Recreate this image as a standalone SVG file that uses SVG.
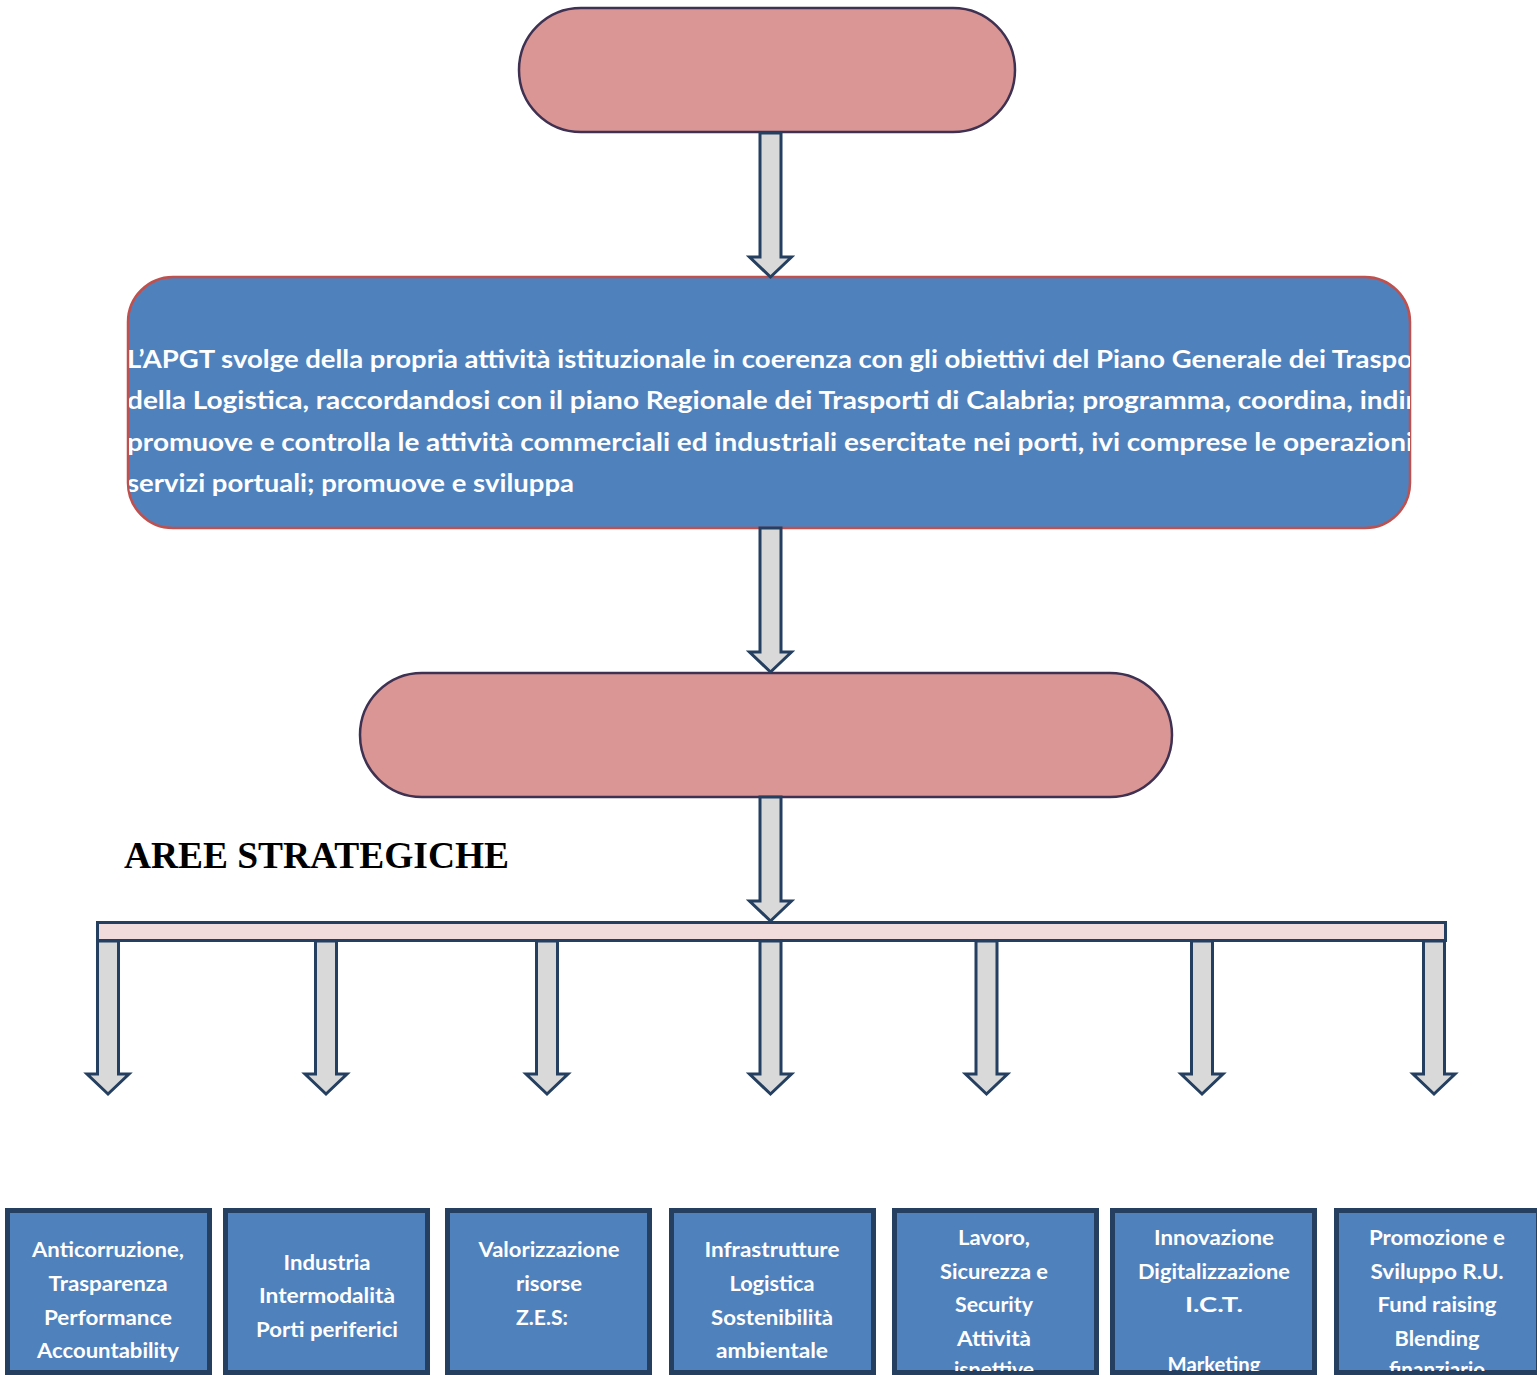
<svg xmlns="http://www.w3.org/2000/svg" width="1537" height="1375" viewBox="0 0 1537 1375">
  <style>
    .pill { fill: #D99694; stroke: #3F3151; stroke-width: 2.5; }
    .mission { fill: #4F81BD; stroke: #C0504D; stroke-width: 2.5; }
    .area { fill: #4F81BD; stroke: #243F60; stroke-width: 5; }
    .bar { fill: #F2DCDB; stroke: #243F60; stroke-width: 3; }
    .arrow { fill: #D9D9D9; stroke: #243F60; stroke-width: 3; stroke-linejoin: miter; }
    .body { font-family: Lato, "Open Sans", "Liberation Sans", sans-serif; font-weight: bold; font-size: 24px; fill: #FFFFFF; }
    .lbl { font-family: Lato, "Open Sans", "Liberation Sans", sans-serif; font-weight: bold; font-size: 20px; fill: #FFFFFF; text-anchor: middle; }
    .title { font-family: "Liberation Serif", "DejaVu Serif", serif; font-weight: bold; font-size: 37px; fill: #000000; }
  </style>
  <defs>
    <clipPath id="missionClip">
      <rect x="129" y="278" width="1281" height="250" rx="45"/>
    </clipPath>
    <clipPath id="areaClip">
      <rect x="0" y="1213" width="1537" height="158"/>
    </clipPath>
  </defs>

  <rect width="1537" height="1375" fill="#FFFFFF"/>

  <!-- top pill -->
  <g id="node-top">
    <rect class="pill" x="519" y="8" width="496" height="124" rx="62"/>
  </g>

  <!-- mission statement -->
  <g id="node-mission">
    <rect class="mission" x="128" y="277" width="1282" height="251" rx="45"/>
    <g clip-path="url(#missionClip)">
      <text class="body" x="127" y="368" textLength="1286" lengthAdjust="spacingAndGlyphs">L’APGT svolge della propria attività istituzionale in coerenza con gli obiettivi del Piano Generale dei Traspo</text>
      <text class="body" x="127" y="409" textLength="1289" lengthAdjust="spacingAndGlyphs">della Logistica, raccordandosi con il piano Regionale dei Trasporti di Calabria; programma, coordina, indir</text>
      <text class="body" x="127" y="451" textLength="1286" lengthAdjust="spacingAndGlyphs">promuove e controlla le attività commerciali ed industriali esercitate nei porti, ivi comprese le operazioni</text>
      <text class="body" x="127" y="492" textLength="447" lengthAdjust="spacingAndGlyphs">servizi portuali; promuove e sviluppa</text>
    </g>
  </g>

  <!-- middle pill -->
  <g id="node-middle">
    <rect class="pill" x="360" y="673" width="812" height="124" rx="62"/>
  </g>

  <!-- section heading -->
  <g id="node-heading">
    <text class="title" x="124" y="868" textLength="385" lengthAdjust="spacingAndGlyphs">AREE STRATEGICHE</text>
  </g>

  <!-- distribution bar -->
  <g id="node-bar">
    <rect class="bar" x="97.5" y="922.5" width="1348" height="18"/>
  </g>

  <!-- strategic area boxes -->
  <g id="node-area-1">
    <rect class="area" x="7.5" y="1210.5" width="202" height="162"/>
    <g clip-path="url(#areaClip)">
      <text class="lbl" x="108" y="1257" textLength="152" lengthAdjust="spacingAndGlyphs">Anticorruzione,</text>
      <text class="lbl" x="108" y="1291" textLength="119" lengthAdjust="spacingAndGlyphs">Trasparenza</text>
      <text class="lbl" x="108" y="1325" textLength="128" lengthAdjust="spacingAndGlyphs">Performance</text>
      <text class="lbl" x="108" y="1358" textLength="142" lengthAdjust="spacingAndGlyphs">Accountability</text>
    </g>
  </g>
  <g id="node-area-2">
    <rect class="area" x="225.5" y="1210.5" width="202" height="162"/>
    <g clip-path="url(#areaClip)">
      <text class="lbl" x="327" y="1270" textLength="87" lengthAdjust="spacingAndGlyphs">Industria</text>
      <text class="lbl" x="327" y="1303" textLength="136" lengthAdjust="spacingAndGlyphs">Intermodalità</text>
      <text class="lbl" x="327" y="1337" textLength="142" lengthAdjust="spacingAndGlyphs">Porti periferici</text>
    </g>
  </g>
  <g id="node-area-3">
    <rect class="area" x="447.5" y="1210.5" width="202" height="162"/>
    <g clip-path="url(#areaClip)">
      <text class="lbl" x="549" y="1257" textLength="141" lengthAdjust="spacingAndGlyphs">Valorizzazione</text>
      <text class="lbl" x="549" y="1291" textLength="66" lengthAdjust="spacingAndGlyphs">risorse</text>
      <text class="lbl" x="542" y="1325" textLength="52" lengthAdjust="spacingAndGlyphs">Z.E.S:</text>
    </g>
  </g>
  <g id="node-area-4">
    <rect class="area" x="671.5" y="1210.5" width="202" height="162"/>
    <g clip-path="url(#areaClip)">
      <text class="lbl" x="772" y="1257" textLength="135" lengthAdjust="spacingAndGlyphs">Infrastrutture</text>
      <text class="lbl" x="772" y="1291" textLength="85" lengthAdjust="spacingAndGlyphs">Logistica</text>
      <text class="lbl" x="772" y="1325" textLength="122" lengthAdjust="spacingAndGlyphs">Sostenibilità</text>
      <text class="lbl" x="772" y="1358" textLength="112" lengthAdjust="spacingAndGlyphs">ambientale</text>
    </g>
  </g>
  <g id="node-area-5">
    <rect class="area" x="894.5" y="1210.5" width="202" height="162"/>
    <g clip-path="url(#areaClip)">
      <text class="lbl" x="994" y="1245" textLength="72" lengthAdjust="spacingAndGlyphs">Lavoro,</text>
      <text class="lbl" x="994" y="1279" textLength="108" lengthAdjust="spacingAndGlyphs">Sicurezza e</text>
      <text class="lbl" x="994" y="1312" textLength="78" lengthAdjust="spacingAndGlyphs">Security</text>
      <text class="lbl" x="994" y="1346" textLength="74" lengthAdjust="spacingAndGlyphs">Attività</text>
      <text class="lbl" x="994" y="1377" textLength="80" lengthAdjust="spacingAndGlyphs">ispettive</text>
    </g>
  </g>
  <g id="node-area-6">
    <rect class="area" x="1112.5" y="1210.5" width="202" height="162"/>
    <g clip-path="url(#areaClip)">
      <text class="lbl" x="1214" y="1245" textLength="120" lengthAdjust="spacingAndGlyphs">Innovazione</text>
      <text class="lbl" x="1214" y="1279" textLength="152" lengthAdjust="spacingAndGlyphs">Digitalizzazione</text>
      <text class="lbl" x="1214" y="1312" textLength="58" lengthAdjust="spacingAndGlyphs">I.C.T.</text>
      <text class="lbl" x="1214" y="1372" textLength="93" lengthAdjust="spacingAndGlyphs">Marketing</text>
    </g>
  </g>
  <g id="node-area-7">
    <rect class="area" x="1336.5" y="1210.5" width="202" height="162"/>
    <g clip-path="url(#areaClip)">
      <text class="lbl" x="1437" y="1245" textLength="136" lengthAdjust="spacingAndGlyphs">Promozione e</text>
      <text class="lbl" x="1437" y="1279" textLength="133" lengthAdjust="spacingAndGlyphs">Sviluppo R.U.</text>
      <text class="lbl" x="1437" y="1312" textLength="119" lengthAdjust="spacingAndGlyphs">Fund raising</text>
      <text class="lbl" x="1437" y="1346" textLength="85" lengthAdjust="spacingAndGlyphs">Blending</text>
      <text class="lbl" x="1437" y="1377" textLength="96" lengthAdjust="spacingAndGlyphs">finanziario</text>
    </g>
  </g>

  <!-- block arrows: shaft half-width 10.5, head half-width 21, head length 20 -->
  <g id="connectors">
    <path class="arrow" d="M760,133 H781 V257 H791.5 L770.5,277 L749.5,257 H760 Z"/>
    <path class="arrow" d="M760,528 H781 V652 H791.5 L770.5,672 L749.5,652 H760 Z"/>
    <path class="arrow" d="M760,797 H781 V901 H791.5 L770.5,921 L749.5,901 H760 Z"/>
    <path class="arrow" d="M97.5,941 H118.5 V1074 H129 L108,1094 L87,1074 H97.5 Z"/>
    <path class="arrow" d="M315.5,941 H336.5 V1074 H347 L326,1094 L305,1074 H315.5 Z"/>
    <path class="arrow" d="M536.5,941 H557.5 V1074 H568 L547,1094 L526,1074 H536.5 Z"/>
    <path class="arrow" d="M760,941 H781 V1074 H791.5 L770.5,1094 L749.5,1074 H760 Z"/>
    <path class="arrow" d="M976,941 H997 V1074 H1007.5 L986.5,1094 L965.5,1074 H976 Z"/>
    <path class="arrow" d="M1191.5,941 H1212.5 V1074 H1223 L1202,1094 L1181,1074 H1191.5 Z"/>
    <path class="arrow" d="M1423.5,941 H1444.5 V1074 H1455 L1434,1094 L1413,1074 H1423.5 Z"/>
  </g>
</svg>
